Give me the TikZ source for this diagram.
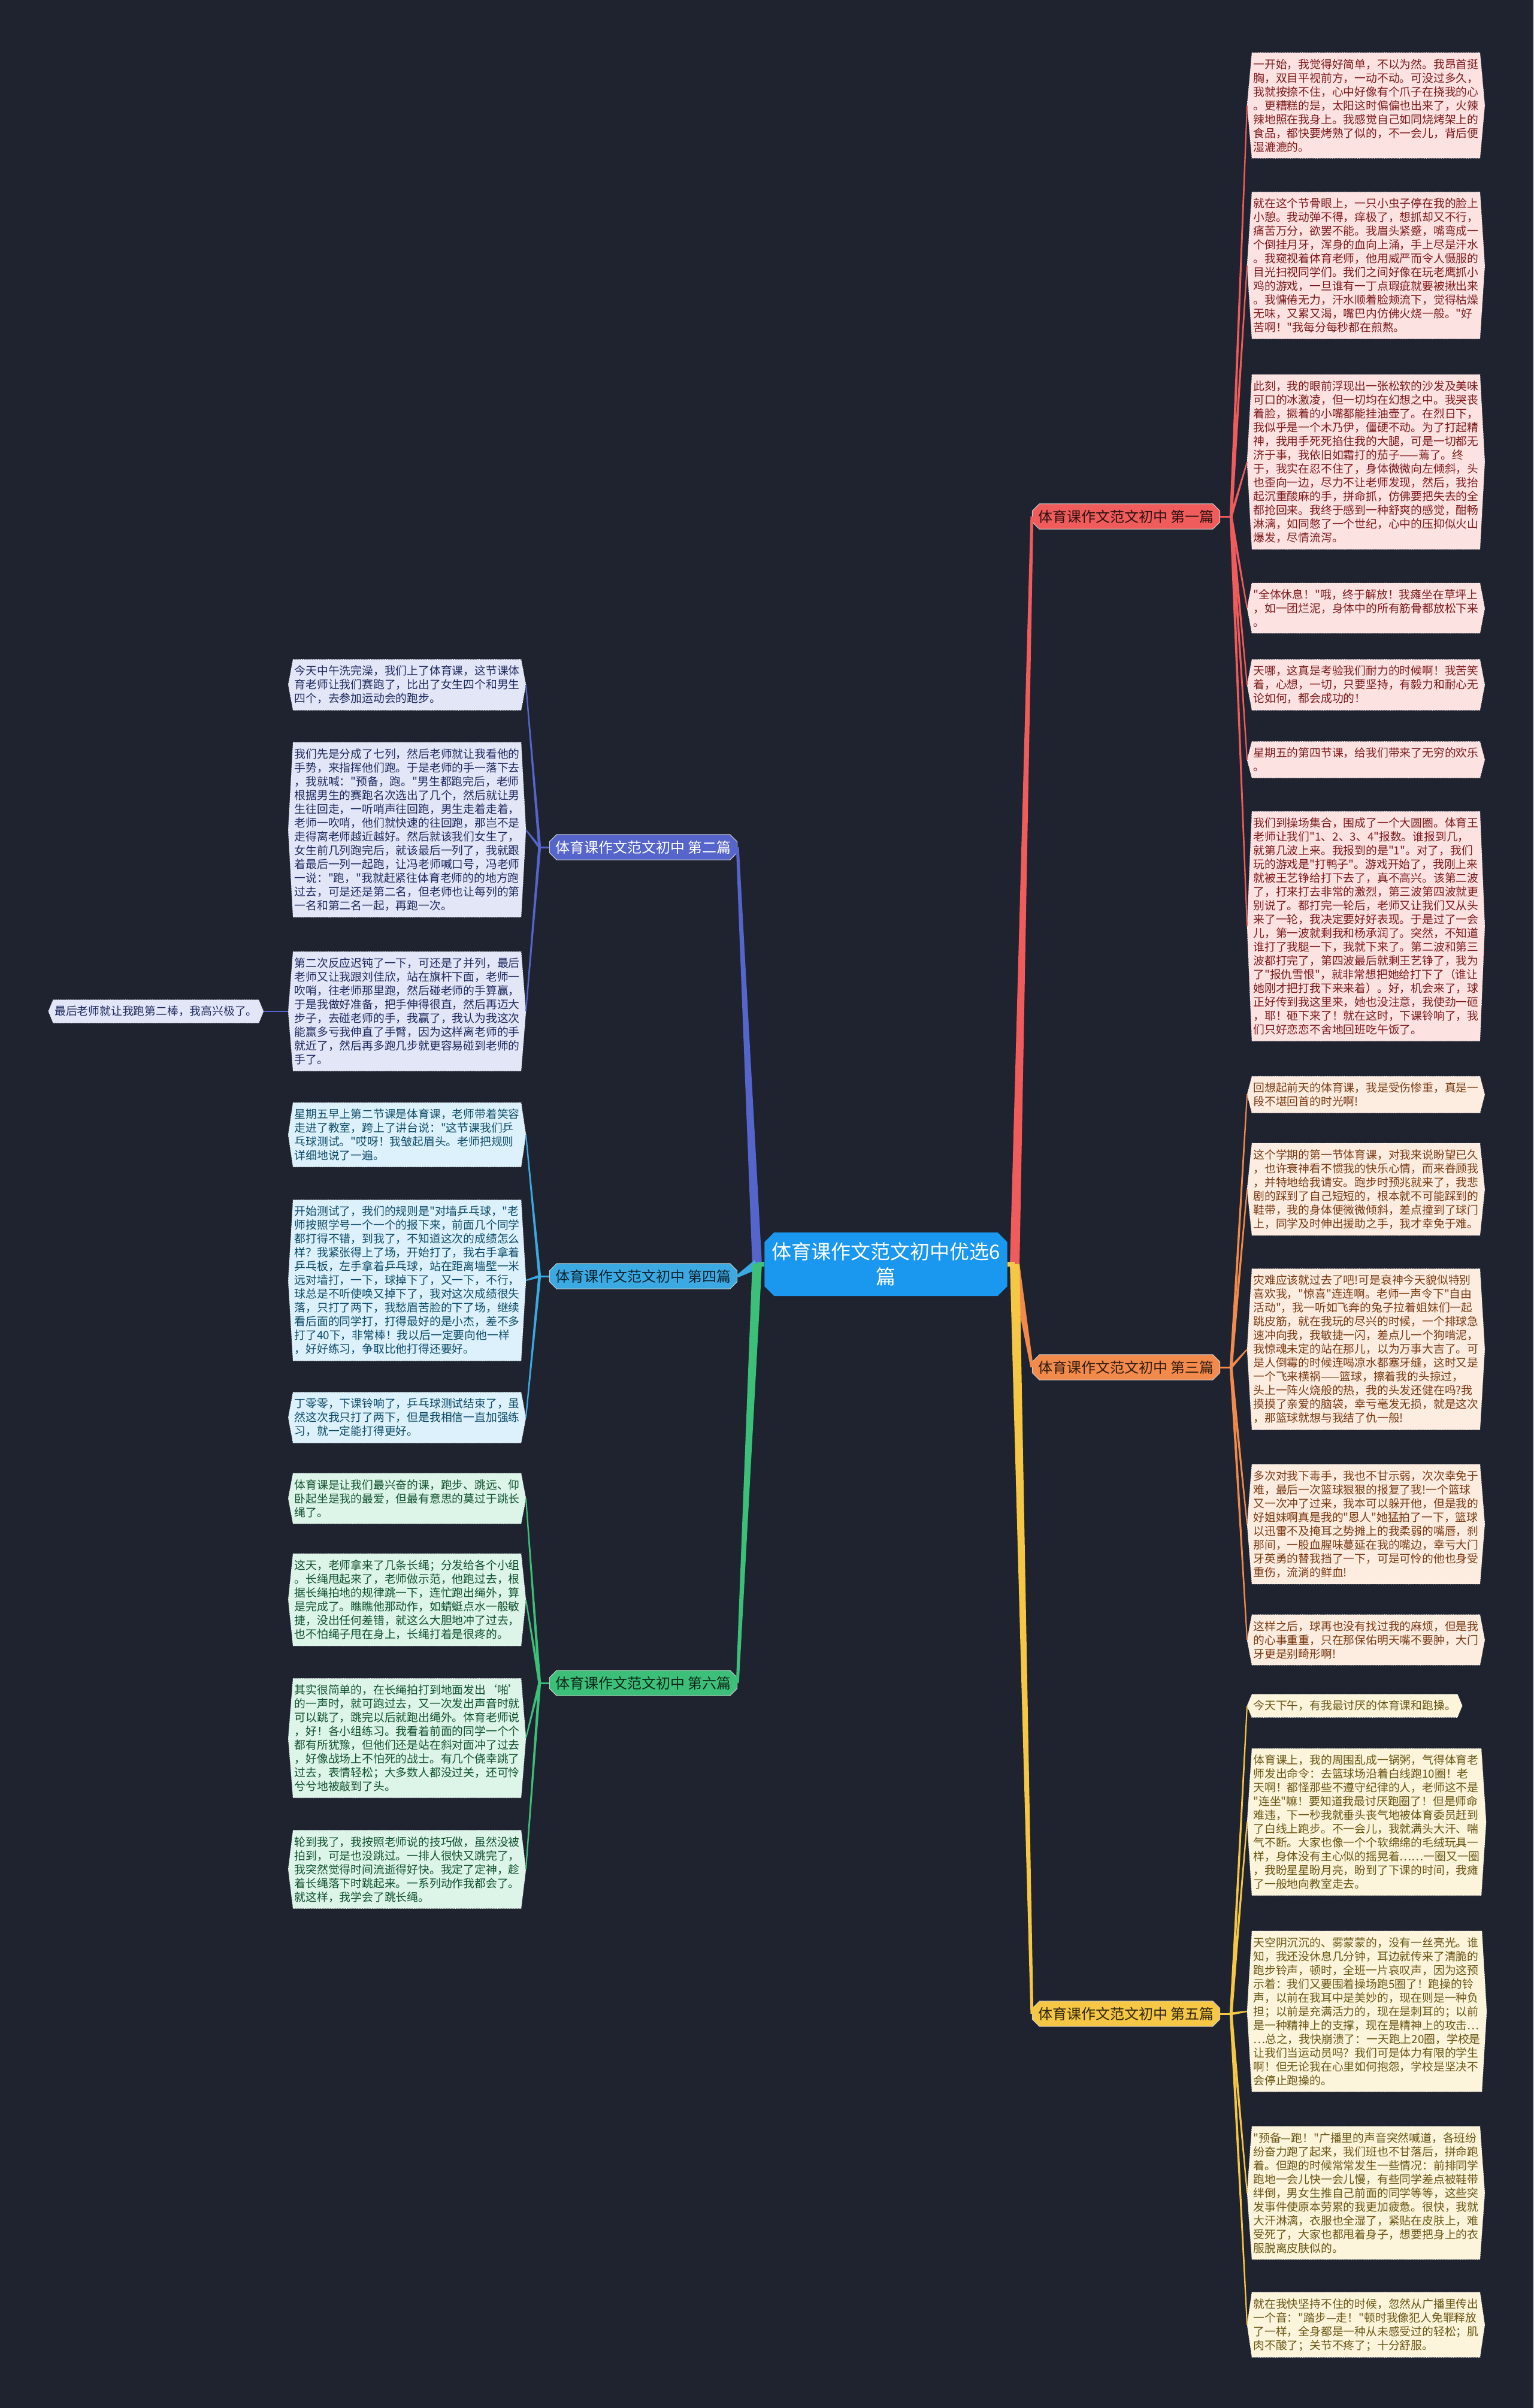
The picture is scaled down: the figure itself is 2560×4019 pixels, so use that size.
\documentclass[tikz,border=0pt]{standalone}
\usepackage{fontspec}
\defaultfontfeatures[\rmfamily,\sffamily]{}
\setmainfont{Noto Sans CJK SC}
\usepackage{tikz}
\usetikzlibrary{calc, backgrounds, shapes.misc}
\definecolor{bgnavy}{HTML}{1F2330}
\definecolor{rootblue}{HTML}{1A97EF}
\definecolor{brred}{HTML}{F05B5B}
\definecolor{brorange}{HTML}{F28A4C}
\definecolor{bryellow}{HTML}{F5C744}
\definecolor{brindigo}{HTML}{5565CB}
\definecolor{brsky}{HTML}{3BAAE3}
\definecolor{brgreen}{HTML}{3CBF78}
\definecolor{lfred}{HTML}{FDE2E2}
\definecolor{lforange}{HTML}{FDEDE1}
\definecolor{lfyellow}{HTML}{FCF4DB}
\definecolor{lfindigo}{HTML}{E3E6F7}
\definecolor{lfsky}{HTML}{DCF1FB}
\definecolor{lfgreen}{HTML}{DCF5E8}
\definecolor{txred}{HTML}{7E1B1B}
\definecolor{txorange}{HTML}{7A3A12}
\definecolor{txyellow}{HTML}{6A5614}
\definecolor{txindigo}{HTML}{1E2A5E}
\definecolor{txsky}{HTML}{0D4B69}
\definecolor{txgreen}{HTML}{10502F}

\newcommand{\leaffont}{\fontsize{9.4pt}{11.5pt}\selectfont}
% tapered connector: colour, from, to, half width at start, half width at end
\newcommand{\taper}[5]{%
  \fill[#1] ($#2!#4!90:#3$) -- ($#3!#5!-90:#2$) -- ($#3!#5!90:#2$) -- ($#2!#4!-90:#3$) -- cycle;}

\tikzset{
  leaf/.style={inner xsep=1pt, inner ysep=5pt, minimum width=190pt, align=left, font=\leaffont},
  shortleaf/.style={inner xsep=1pt, inner ysep=5pt, align=left, font=\leaffont},
  branch/.style={chamfered rectangle, chamfered rectangle xsep=3pt, chamfered rectangle ysep=3pt,
    minimum width=156pt, minimum height=19pt, inner sep=2pt, draw=white!80!black, line width=0.5pt,
    font=\fontsize{12pt}{14pt}\selectfont},
  root/.style={chamfered rectangle, chamfered rectangle xsep=4pt, chamfered rectangle ysep=4pt,
    fill=rootblue, text=white, align=center, minimum width=197pt, minimum height=53pt, inner sep=2pt,
    font=\fontsize{16.5pt}{21pt}\selectfont},
}

\begin{document}
\begin{tikzpicture}[x=0.5pt, y=-0.5pt]
    \useasboundingbox (0,0) rectangle (2560,4019);

    % ── Centre and the six branches ──────────────────────────────────
    \node[root] (root) at (1479,2110) {体育课作文范文初中优选6\\篇};

    \node[branch, fill=brred, text=black!80!brred] (b1) at (1880,862) {体育课作文范文初中 第一篇};
    \node[branch, fill=brorange, text=black!80!brorange] (b3) at (1880,2282) {体育课作文范文初中 第三篇};
    \node[branch, fill=bryellow, text=black!80!bryellow] (b5) at (1880,3361) {体育课作文范文初中 第五篇};
    \node[branch, fill=brindigo, text=white] (b2) at (1074,1414) {体育课作文范文初中 第二篇};
    \node[branch, fill=brsky, text=black!80!brsky] (b4) at (1074,2130) {体育课作文范文初中 第四篇};
    \node[branch, fill=brgreen, text=black!80!brgreen] (b6) at (1074,2809) {体育课作文范文初中 第六篇};

    % ── 第一篇 ───────────────────────────────────────────────────────
    \node[leaf, anchor=west, text=txred] (one1) at (2090,176) {一开始，我觉得好简单，不以为然。我昂首挺\\胸，双目平视前方，一动不动。可没过多久，\\我就按捺不住，心中好像有个爪子在挠我的心\\。更糟糕的是，太阳这时偏偏也出来了，火辣\\辣地照在我身上。我感觉自己如同烧烤架上的\\食品，都快要烤熟了似的，不一会儿，背后便\\湿漉漉的。};
    \node[leaf, anchor=west, text=txred] (one2) at (2090,443) {就在这个节骨眼上，一只小虫子停在我的脸上\\小憩。我动弹不得，痒极了，想抓却又不行，\\痛苦万分，欲罢不能。我眉头紧蹙，嘴弯成一\\个倒挂月牙，浑身的血向上涌，手上尽是汗水\\。我窥视着体育老师，他用威严而令人慑服的\\目光扫视同学们。我们之间好像在玩老鹰抓小\\鸡的游戏，一旦谁有一丁点瑕疵就要被揪出来\\。我慵倦无力，汗水顺着脸颊流下，觉得枯燥\\无味，又累又渴，嘴巴内仿佛火烧一般。"好\\苦啊！"我每分每秒都在煎熬。};
    \node[leaf, anchor=west, text=txred] (one3) at (2090,771) {此刻，我的眼前浮现出一张松软的沙发及美味\\可口的冰激凌，但一切均在幻想之中。我哭丧\\着脸，撅着的小嘴都能挂油壶了。在烈日下，\\我似乎是一个木乃伊，僵硬不动。为了打起精\\神，我用手死死掐住我的大腿，可是一切都无\\济于事，我依旧如霜打的茄子——蔫了。终\\于，我实在忍不住了，身体微微向左倾斜，头\\也歪向一边，尽力不让老师发现，然后，我抬\\起沉重酸麻的手，拼命抓，仿佛要把失去的全\\都抢回来。我终于感到一种舒爽的感觉，酣畅\\淋漓，如同憋了一个世纪，心中的压抑似火山\\爆发，尽情流泻。};
    \node[leaf, anchor=west, text=txred] (one4) at (2090,1015) {"全体休息！"哦，终于解放！我瘫坐在草坪上\\，如一团烂泥，身体中的所有筋骨都放松下来\\。};
    \node[leaf, anchor=west, text=txred] (one5) at (2090,1143) {天哪，这真是考验我们耐力的时候啊！我苦笑\\着，心想，一切，只要坚持，有毅力和耐心无\\论如何，都会成功的！};
    \node[leaf, anchor=west, text=txred] (one6) at (2090,1268) {星期五的第四节课，给我们带来了无穷的欢乐\\。};
    \node[leaf, anchor=west, text=txred] (one7) at (2090,1546) {我们到操场集合，围成了一个大圆圈。体育王\\老师让我们"1、2、3、4"报数。谁报到几，\\就第几波上来。我报到的是"1"。对了，我们\\玩的游戏是"打鸭子"。游戏开始了，我刚上来\\就被王艺铮给打下去了，真不高兴。该第二波\\了，打来打去非常的激烈，第三波第四波就更\\别说了。都打完一轮后，老师又让我们又从头\\来了一轮，我决定要好好表现。于是过了一会\\儿，第一波就剩我和杨承润了。突然，不知道\\谁打了我腿一下，我就下来了。第二波和第三\\波都打完了，第四波最后就剩王艺铮了，我为\\了"报仇雪恨"，就非常想把她给打下了（谁让\\她刚才把打我下来来着）。好，机会来了，球\\正好传到我这里来，她也没注意，我使劲一砸\\，耶！砸下来了！就在这时，下课铃响了，我\\们只好恋恋不舍地回班吃午饭了。};

    % ── 第三篇 ───────────────────────────────────────────────────────
    \node[leaf, anchor=west, text=txorange] (three1) at (2090,1827) {回想起前天的体育课，我是受伤惨重，真是一\\段不堪回首的时光啊!};
    \node[leaf, anchor=west, text=txorange] (three2) at (2090,1985) {这个学期的第一节体育课，对我来说盼望已久\\，也许衰神看不惯我的快乐心情，而来眷顾我\\，并特地给我请安。跑步时预兆就来了，我悲\\剧的踩到了自己短短的，根本就不可能踩到的\\鞋带，我的身体便微微倾斜，差点撞到了球门\\上，同学及时伸出援助之手，我才幸免于难。};
    \node[leaf, anchor=west, text=txorange] (three3) at (2090,2252) {灾难应该就过去了吧!可是衰神今天貌似特别\\喜欢我，"惊喜"连连啊。老师一声令下"自由\\活动"，我一听如飞奔的兔子拉着姐妹们一起\\跳皮筋，就在我玩的尽兴的时候，一个排球急\\速冲向我，我敏捷一闪，差点儿一个狗啃泥，\\我惊魂未定的站在那儿，以为万事大吉了。可\\是人倒霉的时候连喝凉水都塞牙缝，这时又是\\一个飞来横祸——篮球，擦着我的头掠过，\\头上一阵火烧般的热，我的头发还健在吗?我\\摸摸了亲爱的脑袋，幸亏毫发无损，就是这次\\，那篮球就想与我结了仇一般!};
    \node[leaf, anchor=west, text=txorange] (three4) at (2090,2544) {多次对我下毒手，我也不甘示弱，次次幸免于\\难，最后一次篮球狠狠的报复了我!一个篮球\\又一次冲了过来，我本可以躲开他，但是我的\\好姐妹啊真是我的"恩人"她猛拍了一下，篮球\\以迅雷不及掩耳之势摊上的我柔弱的嘴唇，刹\\那间，一股血腥味蔓延在我的嘴边，幸亏大门\\牙英勇的替我挡了一下，可是可怜的他也身受\\重伤，流淌的鲜血!};
    \node[leaf, anchor=west, text=txorange] (three5) at (2090,2737) {这样之后，球再也没有找过我的麻烦，但是我\\的心事重重，只在那保佑明天嘴不要肿，大门\\牙更是别畸形啊!};

    % ── 第五篇 ───────────────────────────────────────────────────────
    \node[shortleaf, anchor=west, text=txyellow] (five1) at (2090,2847) {今天下午，有我最讨厌的体育课和跑操。};
    \node[leaf, anchor=west, text=txyellow] (five2) at (2090,3041) {体育课上，我的周围乱成一锅粥，气得体育老\\师发出命令：去篮球场沿着白线跑10圈！老\\天啊！都怪那些不遵守纪律的人，老师这不是\\"连坐"嘛！要知道我最讨厌跑圈了！但是师命\\难违，下一秒我就垂头丧气地被体育委员赶到\\了白线上跑步。不一会儿，我就满头大汗、喘\\气不断。大家也像一个个软绵绵的毛绒玩具一\\样，身体没有主心似的摇晃着……一圈又一圈\\，我盼星星盼月亮，盼到了下课的时间，我瘫\\了一般地向教室走去。};
    \node[leaf, anchor=west, text=txyellow] (five3) at (2090,3357) {天空阴沉沉的、雾蒙蒙的，没有一丝亮光。谁\\知，我还没休息几分钟，耳边就传来了清脆的\\跑步铃声，顿时，全班一片哀叹声，因为这预\\示着：我们又要围着操场跑5圈了！跑操的铃\\声，以前在我耳中是美妙的，现在则是一种负\\担；以前是充满活力的，现在是刺耳的；以前\\是一种精神上的支撑，现在是精神上的攻击…\\…总之，我快崩溃了：一天跑上20圈，学校是\\让我们当运动员吗？我们可是体力有限的学生\\啊！但无论我在心里如何抱怨，学校是坚决不\\会停止跑操的。};
    \node[leaf, anchor=west, text=txyellow] (five4) at (2090,3660) {"预备—跑！"广播里的声音突然喊道，各班纷\\纷奋力跑了起来，我们班也不甘落后，拼命跑\\着。但跑的时候常常发生一些情况：前排同学\\跑地一会儿快一会儿慢，有些同学差点被鞋带\\绊倒，男女生推自己前面的同学等等，这些突\\发事件使原本劳累的我更加疲惫。很快，我就\\大汗淋漓，衣服也全湿了，紧贴在皮肤上，难\\受死了，大家也都甩着身子，想要把身上的衣\\服脱离皮肤似的。};
    \node[leaf, anchor=west, text=txyellow] (five5) at (2090,3880) {就在我快坚持不住的时候，忽然从广播里传出\\一个音："踏步—走！"顿时我像犯人免罪释放\\了一样，全身都是一种从未感受过的轻松；肌\\肉不酸了；关节不疼了；十分舒服。};

    % ── 第二篇 ───────────────────────────────────────────────────────
    \node[leaf, anchor=east, text=txindigo] (two1) at (870,1143) {今天中午洗完澡，我们上了体育课，这节课体\\育老师让我们赛跑了，比出了女生四个和男生\\四个，去参加运动会的跑步。};
    \node[leaf, anchor=east, text=txindigo] (two2) at (870,1385) {我们先是分成了七列，然后老师就让我看他的\\手势，来指挥他们跑。于是老师的手一落下去\\，我就喊："预备，跑。"男生都跑完后，老师\\根据男生的赛跑名次选出了几个，然后就让男\\生往回走，一听哨声往回跑，男生走着走着，\\老师一吹哨，他们就快速的往回跑，那岂不是\\走得离老师越近越好。然后就该我们女生了，\\女生前几列跑完后，就该最后一列了，我就跟\\着最后一列一起跑，让冯老师喊口号，冯老师\\一说："跑，"我就赶紧往体育老师的的地方跑\\过去，可是还是第二名，但老师也让每列的第\\一名和第二名一起，再跑一次。};
    \node[leaf, anchor=east, text=txindigo] (two3) at (870,1688) {第二次反应迟钝了一下，可还是了并列，最后\\老师又让我跟刘佳欣，站在旗杆下面，老师一\\吹哨，往老师那里跑，然后碰老师的手算赢，\\于是我做好准备，把手伸得很直，然后再迈大\\步子，去碰老师的手，我赢了，我认为我这次\\能赢多亏我伸直了手臂，因为这样离老师的手\\就近了，然后再多跑几步就更容易碰到老师的\\手了。};
    \node[shortleaf, anchor=east, text=txindigo] (twox) at (432,1688) {最后老师就让我跑第二棒，我高兴极了。};

    % ── 第四篇 ───────────────────────────────────────────────────────
    \node[leaf, anchor=east, text=txsky] (four1) at (870,1894) {星期五早上第二节课是体育课，老师带着笑容\\走进了教室，跨上了讲台说："这节课我们乒\\乓球测试。"哎呀！我皱起眉头。老师把规则\\详细地说了一遍。};
    \node[leaf, anchor=east, text=txsky] (four2) at (870,2137) {开始测试了，我们的规则是"对墙乒乓球，"老\\师按照学号一个一个的报下来，前面几个同学\\都打得不错，到我了，不知道这次的成绩怎么\\样？我紧张得上了场，开始打了，我右手拿着\\乒乓板，左手拿着乒乓球，站在距离墙壁一米\\远对墙打，一下，球掉下了，又一下，不行，\\球总是不听使唤又掉下了，我对这次成绩很失\\落，只打了两下，我愁眉苦脸的下了场，继续\\看后面的同学打，打得最好的是小杰，差不多\\打了40下，非常棒！我以后一定要向他一样\\，好好练习，争取比他打得还要好。};
    \node[leaf, anchor=east, text=txsky] (four3) at (870,2366) {丁零零，下课铃响了，乒乓球测试结束了，虽\\然这次我只打了两下，但是我相信一直加强练\\习，就一定能打得更好。};

    % ── 第六篇 ───────────────────────────────────────────────────────
    \node[leaf, anchor=east, text=txgreen] (six1) at (870,2501) {体育课是让我们最兴奋的课，跑步、跳远、仰\\卧起坐是我的最爱，但最有意思的莫过于跳长\\绳了。};
    \node[leaf, anchor=east, text=txgreen] (six2) at (870,2670) {这天，老师拿来了几条长绳；分发给各个小组\\。长绳甩起来了，老师做示范，他跑过去，根\\据长绳拍地的规律跳一下，连忙跑出绳外，算\\是完成了。瞧瞧他那动作，如蜻蜓点水一般敏\\捷，没出任何差错，就这么大胆地冲了过去，\\也不怕绳子甩在身上，长绳打着是很疼的。};
    \node[leaf, anchor=east, text=txgreen] (six3) at (870,2901) {其实很简单的，在长绳拍打到地面发出‘啪’\\的一声时，就可跑过去，又一次发出声音时就\\可以跳了，跳完以后就跑出绳外。体育老师说\\，好！各小组练习。我看着前面的同学一个个\\都有所犹豫，但他们还是站在斜对面冲了过去\\，好像战场上不怕死的战士。有几个侥幸跳了\\过去，表情轻松；大多数人都没过关，还可怜\\兮兮地被敲到了头。};
    \node[leaf, anchor=east, text=txgreen] (six4) at (870,3120) {轮到我了，我按照老师说的技巧做，虽然没被\\拍到，可是也没跳过。一排人很快又跳完了，\\我突然觉得时间流逝得好快。我定了定神，趁\\着长绳落下时跳起来。一系列动作我都会了。\\就这样，我学会了跳长绳。};

    % ── Leaf boxes (pointed at both ends) ────────────────────────────
    \begin{pgfonlayer}{background}
        \fill[bgnavy] (0,0) rectangle (2560,4019);
        \foreach \n/\f in {one1/lfred, one2/lfred, one3/lfred, one4/lfred, one5/lfred, one6/lfred, one7/lfred,
                           three1/lforange, three2/lforange, three3/lforange, three4/lforange, three5/lforange,
                           five1/lfyellow, five2/lfyellow, five3/lfyellow, five4/lfyellow, five5/lfyellow,
                           two1/lfindigo, two2/lfindigo, two3/lfindigo, twox/lfindigo,
                           four1/lfsky, four2/lfsky, four3/lfsky,
                           six1/lfgreen, six2/lfgreen, six3/lfgreen, six4/lfgreen}{
            \filldraw[fill=\f, draw=white, densely dotted, line width=0.4pt]
                (\n.north west) -- (\n.north east) -- ([xshift=4pt]\n.east) -- (\n.south east)
                -- (\n.south west) -- ([xshift=-4pt]\n.west) -- cycle;
        }
    \end{pgfonlayer}

    % ── Connectors ───────────────────────────────────────────────────
    \coordinate (rhub) at ([xshift=6pt]root.east);
    \coordinate (lhub) at ([xshift=-6pt]root.west);
    \taper{brred}{(rhub)}{(b1.west)}{4pt}{1.2pt}
    \taper{brorange}{(rhub)}{(b3.west)}{4pt}{1.2pt}
    \taper{bryellow}{(rhub)}{(b5.west)}{4pt}{1.2pt}
    \draw[bryellow, line width=4pt] (root.east) -- (rhub);
    \taper{brindigo}{(lhub)}{(b2.east)}{4pt}{1.2pt}
    \taper{brsky}{(lhub)}{(b4.east)}{4pt}{1.2pt}
    \taper{brgreen}{(lhub)}{(b6.east)}{4pt}{1.2pt}
    \draw[brgreen, line width=4pt] (root.west) -- (lhub);

    \coordinate (h1) at ([xshift=9pt]b1.east);
    \coordinate (h3) at ([xshift=9pt]b3.east);
    \coordinate (h5) at ([xshift=9pt]b5.east);
    \coordinate (h2) at ([xshift=-8pt]b2.west);
    \coordinate (h4) at ([xshift=-8pt]b4.west);
    \coordinate (h6) at ([xshift=-8pt]b6.west);
    \draw[brred, line width=1.5pt] (b1.east) -- (h1);
    \draw[brorange, line width=1.5pt] (b3.east) -- (h3);
    \draw[bryellow, line width=1.5pt] (b5.east) -- (h5);
    \draw[brindigo, line width=1.5pt] (b2.west) -- (h2);
    \draw[brsky, line width=1.5pt] (b4.west) -- (h4);
    \draw[brgreen, line width=1.5pt] (b6.west) -- (h6);

    \foreach \n in {one1, one2, one3, one4, one5, one6, one7}
        \taper{brred}{(h1)}{([xshift=-4pt]\n.west)}{1.2pt}{0.5pt};
    \foreach \n in {three1, three2, three3, three4, three5}
        \taper{brorange}{(h3)}{([xshift=-4pt]\n.west)}{1.2pt}{0.5pt};
    \foreach \n in {five1, five2, five3, five4, five5}
        \taper{bryellow}{(h5)}{([xshift=-4pt]\n.west)}{1.2pt}{0.5pt};
    \foreach \n in {two1, two2, two3}
        \taper{brindigo}{(h2)}{([xshift=4pt]\n.east)}{1.2pt}{0.5pt};
    \foreach \n in {four1, four2, four3}
        \taper{brsky}{(h4)}{([xshift=4pt]\n.east)}{1.2pt}{0.5pt};
    \foreach \n in {six1, six2, six3, six4}
        \taper{brgreen}{(h6)}{([xshift=4pt]\n.east)}{1.2pt}{0.5pt};
    \draw[brindigo, line width=1pt] ([xshift=-4pt]two3.west) -- ([xshift=4pt]twox.east);
\end{tikzpicture}
\end{document}
